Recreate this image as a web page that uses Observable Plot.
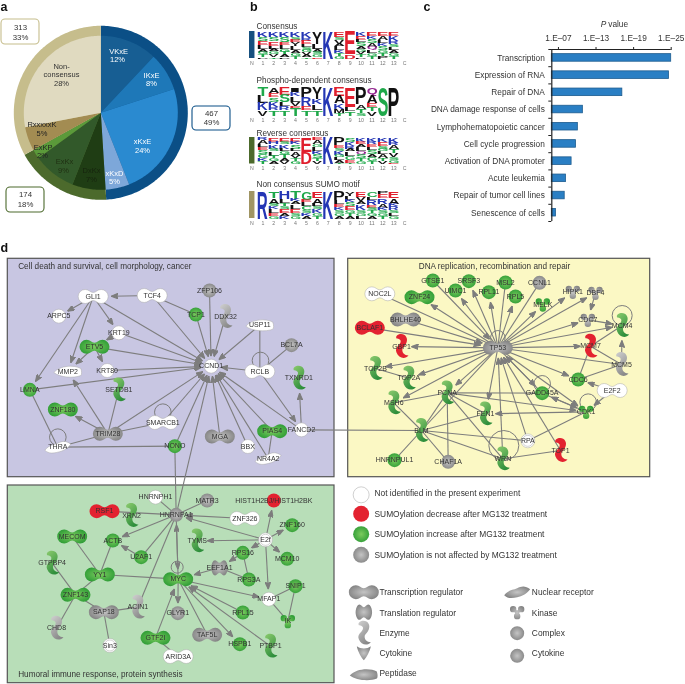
<!DOCTYPE html>
<html><head><meta charset="utf-8">
<script src="https://cdn.jsdelivr.net/npm/d3@7"></script>
<script src="https://cdn.jsdelivr.net/npm/@observablehq/plot@0.6"></script>
<style>
html,body{margin:0;padding:0;background:#fff}
#page{position:relative;width:685px;height:684px;overflow:hidden;filter:blur(.3px)}
#page svg{position:absolute;max-width:none}
</style></head><body><div id="page"></div>
<script>
// ---------- a: pie ----------
const ringNames=["467","174","313"];
const ringValues=[49,18,33];
const ringColors=["#0b4f86","#4c6a2c","#c6bd8c"];
const sliceNames=["VKxE","IKxE","xKxE","xKxD","DxKx","ExKx","ExKP","RxxxxxK","Non-consensus"];
const sliceValues=[12,8,24,5,7,9,2,5,28];
const sliceColors=["#175e93","#1e78b8","#2a8ad0","#7da7d9","#1f3d14","#32592a","#5b9a3a","#a38c52","#e0dac0"];
const pieLabels=[
 ["VKxE",118,51,"#fff"],["12%",117,59.5,"#fff"],["IKxE",151,75.5,"#fff"],["8%",151,83.5,"#fff"],
 ["xKxE",142,141.5,"#fff"],["24%",142,150,"#fff"],["xKxD",114,173,"#fff"],["5%",114,181.5,"#fff"],
 ["DxKx",91,170.5,"#16240e"],["7%",91,179,"#16240e"],["ExKx",64,161.5,"#1f2f12"],["9%",63,170,"#1f2f12"],
 ["ExKP",42.5,147,"#222"],["2%",42,155.5,"#222"],["RxxxxxK",41.5,124.5,"#222"],["5%",41.5,133.5,"#222"],
 ["Non-",61,66,"#333"],["consensus",61,74.5,"#333"],["28%",61,83.5,"#333"]];
const pieBoxes=[[1,19,39,44,"#c6bd8c","313",27,"33%",37],[192,106,230,130,"#0b4f86","467",112.5,"49%",122],[6,187,44,212,"#4c6a2c","174",194,"18%",204]];
const pieCentre=[100.3,112.3], rOuter=87, rInner=77;

// ---------- b: sequence logos ----------
const logoConsensus=["K2 S1.5 E1.5 L1.5 A1 G1 T1 P.5","K2 S1.5 E1.5 L1 A1 G1 V1 T.5","K2 S2 E1 L1.5 G1 T1 A1 P.5","K2 S1 E1 Y1.5 L1.5 A1 G1 T1","K2.5 R1 E1.5 L1 S1 G1 V1 A1 T.5","Y4.5 L2 A1 S1 G1 E.5","K10","E2 S1 V1.5 A1 L1.5 K1 T1 G1","E8.5 D1.5","K1.5 E1.5 L1 S1.5 A1 G1 V1 T1 P.5","E1.5 K1 S1.5 A1.5 Q1 L1 G1 T1","E1.5 A1.5 L1 K1 S1.5 G1 T1 P1","E1.5 K2 R1 S1 L1 A1 G1 T1"];
const logoPhospho=["T3 L2.5 K2.5 V2","A2 E1.5 S1.5 K2 R1 T2","E2.5 S2.5 L1.5 R1.5 T2","I1.5 K1.5 L2 V1.5 E1 T2.5","P3.5 R3 E1.5 T2","Y4 K2 L2 T2","K10","E3 A2.5 K2 M1.5 T1","E7 L1.5 T1.5","P6 A1.5 T1.5 S1","Q3 A2.5 E1.5 T1.5 V1.5","S10","P10"];
const logoReverse=["R1 A1.5 L1 E1 S1.5 G1.5 K1 T1","E1.5 H1 K1.5 S1 L1.5 T1 G1 A1","E1.5 S1 K1.5 L1 G1 T1.5 A1 V1","E1.5 K1 S1.5 L1 A1.5 V1 T1 G1","E5.5 D4.5","E1 A1.5 G1 L1.5 K1 S1.5 T1 V1","K10","P3 E1 S1 K1.5 G1 L1 A1 T.5","S1.5 K1.5 R1 A1 L1.5 G1.5 E1 T.5","K1.5 E1 A1 L1.5 Q1 S1.5 T1 G1","K1.5 R1 E1 L1 S1.5 A1 G1.5 T1","K1.5 E1.5 S1 G1 L1 A1.5 T1 V1","K2 R1 A1.5 T1.5 V1.5 S1 G1 E.5"];
const logoNon=["R10","T2.5 A2 S1 K1 L1.5 E1 G1","H2.5 L1.5 T1 S1 E1.5 A1 K1","T2.5 K1 A1 L1.5 E1.5 S1 G1","G3 E1 L1.5 C1.5 S1 K1 A1","E2.5 A2 L1 S1 K1.5 G1 T1","K10","P3 L1.5 E1 K1 S1 G1 A1","Y1.5 L1.5 K1 S1.5 E1.5 G1 T1 A1","E2 V1.5 A1 K2 S1 G1 L1","C2 L1 R2 E1 S1 T1 G1 A1","P1 E1.5 R2 A1.5 K1 S1 G1 T1","E2.5 A2 K1 R1.5 S1 L1 G1"];
const residueColors={K:"#2436b4",R:"#2436b4",H:"#2436b4",E:"#e01f2d",D:"#e01f2d",S:"#1fa84a",T:"#1fa84a",G:"#1fa84a",C:"#1fa84a",Y:"#111",Q:"#93278f",N:"#93278f",A:"#111",V:"#111",L:"#111",I:"#111",P:"#111",F:"#111",M:"#111",W:"#111"};
const logoPanels=[
 {title:"Consensus",cols:logoConsensus,bar:"#17507f",top:31,bottom:58,label:-5},
 {title:"Phospho-dependent consensus",cols:logoPhospho,bar:null,top:87,bottom:115,label:-7},
 {title:"Reverse consensus",cols:logoReverse,bar:"#4c6a2c",top:137,bottom:163.5,label:-4.5},
 {title:"Non consensus SUMO motif",cols:logoNon,bar:"#a09563",top:191,bottom:218,label:-7}];
const logoTicks=["N","1","2","3","4","5","6","7","8","9","10","11","12","13","C"];

// ---------- c: bars ----------
const termNames=["Transcription","Expression of RNA","Repair of DNA","DNA damage response of cells","Lymphohematopoietic cancer","Cell cycle progression","Activation of DNA promoter","Acute leukemia","Repair of tumor cell lines","Senescence of cells"];
const termLogP=[25,24.65,17.2,10.9,10.1,9.8,9.1,8.2,8.0,6.6];
const pTicks=[7,13,19,25];

// ---------- d: network (reading coordinates; enzyme e, peanut p, circle c, kinase k, peptidase x, nuclear n, translation t, complex o) ----------
const purpleOrigin=[0,240], yellowOrigin=[345,250], greenOrigin=[0,480];
const purpleNodes=[["GLI1",278,168,"p","w"],["TCF4",455,165,"p","w"],["ZFP106",627,150,"c","y"],["TCP1",586,222,"c","g"],["DDX32",675,228,"e","y"],["ARPC5",175,227,"c","w"],["KRT19",355,277,"c","w"],["USP11",778,254,"x","w"],["BCL7A",873,314,"c","y"],["ETV5",282,319,"p","g"],["MMP2",202,393,"x","w"],["KRT80",320,390,"c","w"],["CCND1",632,377,"c","w"],["RCLB",778,393,"p","w"],["TXNRD1",895,413,"e","g"],["SETDB1",355,448,"e","g"],["LMNA",88,448,"c","g"],["ZNF180",187,507,"p","g"],["TRIM28",322,580,"p","y"],["SMARCB1",487,546,"p","w"],["THRA",172,620,"n","w"],["NONO",523,617,"c","g"],["MGA",658,588,"p","y"],["BBX",742,618,"c","w"],["PIAS4",815,572,"p","g"],["FANCD2",903,568,"c","w"],["NR4A2",803,654,"n","w"]];
const yellowNodes=[["GTSE1",262,90,"c","g"],["ZNF24",222,140,"p","g"],["UIMC1",330,120,"c","g"],["SRSF3",370,92,"c","g"],["RPL11",430,125,"c","g"],["MSL2",480,96,"c","g"],["RPL5",510,138,"c","g"],["CCNL1",582,97,"c","y"],["MELK",592,162,"k","g"],["HIPK1",682,124,"k","y"],["DBF4",750,127,"k","y"],["NOC2L",103,130,"p","w"],["BHLHE40",180,207,"p","y"],["BCLAF1",73,232,"p","r"],["GBP1",168,288,"e","r"],["CDC7",727,208,"k","y"],["MCM4",830,225,"e","g"],["MCM7",735,287,"e","r"],["TP53",457,292,"p","y"],["MCM5",828,342,"e","y"],["TOP2B",90,354,"e","g"],["TOP2A",190,383,"e","g"],["CDC6",698,387,"c","g"],["E2F2",800,420,"p","w"],["PCNA",305,427,"e","g"],["GADD45A",590,428,"c","g"],["MSH6",145,457,"e","g"],["FEN1",420,490,"e","g"],["CDK1",722,484,"k","g"],["BLM",228,540,"e","g"],["RPA",547,571,"o","w"],["TOP1",645,600,"e","r"],["HNRNPUL1",147,629,"c","g"],["CHAF1A",308,634,"c","y"],["WRN",472,625,"e","g"]];
const greenNodes=[["HNRNPH1",465,50,"c","w"],["MATR3",620,60,"c","y"],["RSF1",312,92,"p","r"],["XRN2",393,105,"e","g"],["HNRNPA1",527,103,"c","y"],["HIST1H2BJ/HIST1H2BK",820,60,"c","r"],["ZNF326",733,114,"p","w"],["ZNF160",875,134,"c","g"],["MECOM",215,168,"p","g"],["ACTB",337,180,"c","g"],["TYMS",590,181,"e","g"],["E2f",795,178,"o","w"],["U2AF1",422,230,"c","g"],["RPS16",727,217,"c","g"],["MCM10",860,235,"c","g"],["GTPBP4",155,248,"e","g"],["EEF1A1",657,262,"t","y"],["YY1",298,282,"p","g"],["MYC",533,296,"p","g"],["RPS3A",745,297,"c","g"],["SNIP1",885,317,"c","g"],["ZNF143",225,343,"p","g"],["SAP18",310,395,"p","y"],["ACIN1",412,380,"e","y"],["MFAP1",805,356,"c","w"],["GLYR1",532,398,"c","y"],["RPL15",727,396,"c","g"],["IK",862,422,"k","g"],["CHD8",168,443,"e","y"],["TAF5L",620,463,"p","y"],["GTF2I",465,472,"p","g"],["HSPB1",718,491,"c","g"],["PTBP1",810,497,"e","g"],["Sin3",328,495,"o","w"],["ARID3A",533,528,"p","w"]];
const purpleLinks=["TCF4>GLI1","TCF4-TCP1","GLI1>ARPC5","GLI1>KRT19","GLI1>MMP2","GLI1>LMNA","GLI1>CCND1","TCF4>CCND1","TCP1>CCND1","ZFP106>CCND1","DDX32>CCND1","USP11>CCND1","KRT19>CCND1","KRT19>ETV5","ETV5>CCND1","ETV5>MMP2","ETV5>KRT80","KRT80>CCND1","LMNA>CCND1","RCLB>CCND1","BCL7A-RCLB","USP11-RCLB","RCLB>FANCD2","FANCD2>TXNRD1","TRIM28>CCND1","TRIM28>MMP2","TRIM28>ZNF180","TRIM28-SETDB1","TRIM28-SMARCB1","TRIM28-THRA","SMARCB1>CCND1","THRA-LMNA","THRA-NONO","NONO>CCND1","NONO-HNRNPA1","HNRNPA1>CCND1","MGA>CCND1","BBX>CCND1","PIAS4>CCND1","FANCD2>CCND1","NR4A2>CCND1","NR4A2-PIAS4","FANCD2-BLM"];
const yellowLinks=["TP53>ZNF24","TP53>UIMC1","TP53>SRSF3","TP53>RPL11","MSL2-TP53","TP53>RPL5","CCNL1-TP53","TP53>MELK","TP53>HIPK1","TP53>DBF4","TP53>CDC7","TP53>MCM4","TP53>MCM7","TP53-MCM5","TP53>CDC6","TP53>GADD45A","GADD45A>TP53","TP53>PCNA","TP53>TOP2A","TP53>TOP2B","TP53>MSH6","TP53>GBP1","TP53>CDK1","TP53-BLM","TP53>FEN1","NOC2L-TP53","BHLHE40>TP53","BCLAF1>TP53","GTSE1>TP53","WRN>TP53","RPA>TP53","TOP1>TP53","DBF4>CDC7","CDC7>MCM4","MCM7-MCM4","MCM5>MCM4","MCM7-MCM5","MCM7-CDC6","MCM5-CDC6","E2F2>CDC6","E2F2>CDK1","CDK1>GADD45A","GADD45A>CDK1","CDK1>FEN1","CDK1-RPA","PCNA>CDK1","PCNA-GADD45A","PCNA-FEN1","PCNA-MSH6","PCNA-CHAF1A","PCNA-BLM","PCNA-WRN","TOP2B-TOP2A","MSH6-BLM","BLM-FEN1","BLM-RPA","BLM-WRN","BLM-HNRNPUL1","BLM-CHAF1A","WRN-TOP1"];
const greenLinks=["HNRNPH1-HNRNPA1","MATR3-HNRNPA1","RSF1-HNRNPA1","ZNF326>HNRNPA1","E2f>HNRNPA1","HNRNPA1>ACTB","U2AF1-HNRNPA1","U2AF1>ACTB","HNRNPA1>MYC","MYC>HNRNPA1","ACIN1-HNRNPA1","E2f>HIST1H2BJ/HIST1H2BK","E2f>ZNF160","E2f>MCM10","E2f>TYMS","E2f>RPS16","E2f>MFAP1","RPS16-RPS3A","RPS16>EEF1A1","EEF1A1>MYC","RPS3A-EEF1A1","YY1-MYC","YY1-MECOM","YY1-ACTB","YY1-ZNF143","ZNF143-GTPBP4","ZNF143-CHD8","ZNF143-SAP18","SAP18-ACIN1","SAP18-Sin3","MYC>GLYR1","MYC>MFAP1","MYC-TAF5L","MYC>HSPB1","RPL15>MYC","PTBP1>MYC","GTF2I>MYC","GTF2I-ARID3A","MFAP1-SNIP1","SNIP1-IK","MFAP1-IK"];
const selfLoops=[[0,780,360,8.3],[0,487,515,8.3],[0,172,590,8.3],[1,457,262,7.3],[1,830,195,10],[1,590,400,8.3],[1,728,455,8.3],[1,475,585,15],[2,530,260,6]];
const panelRects=[["#c8c6e2",7.3,258.3,334,476.7],["#fbf8c4",347.7,258.3,649.7,476.7],["#b8deb8",7.3,485,334,682.7]];
const panelTitlesLeft=[["Cell death and survival, cell morphology, cancer",17.7,265.7],["Humoral immune response, protein synthesis",17.7,674]];
const panelTitlesCentre=[["DNA replication, recombination and repair",494,265.7]];
const statusKeys=[["Not identified in the present experiment","w",43,39],["SUMOylation decrease after MG132 treatment","r",100,101],["SUMOylation increase after MG132 treatment","g",161,162],["SUMOylation is not affected by MG132 treatment","y",223,224]];
const shapeKeys=[["Transcription regulator","p",55,335,102,336],["Translation regulator","t",55,395,102,397],["Enzyme","e",55,458,102,458],["Cytokine","v",55,518,102,517],["Peptidase","x",55,582,102,578],["Nuclear receptor","n",515,335,559,336],["Kinase","k",515,395,559,397],["Complex","o",515,458,559,458],["Cytokine","c",515,526,559,519]];
const panelLetters=[["a",0,6.5],["b",249.5,6.5],["c",423,6.5],["d",0,247.7]];

// ---------- helpers ----------
const FONT='"Liberation Sans",Arial,sans-serif';
const page=document.getElementById("page");
function fromPath(d){const t=d.match(/[MCZ]|-?[\d.]+/g);return{draw(c){let i=0;while(i<t.length){const o=t[i++];if(o==="M"){c.moveTo(+t[i],+t[i+1]);i+=2}else if(o==="C"){c.bezierCurveTo(+t[i],+t[i+1],+t[i+2],+t[i+3],+t[i+4],+t[i+5]);i+=6}else c.closePath()}}}}
const TAU=Math.PI*2;
const circle=r=>({draw(c){c.moveTo(r,0);c.arc(0,0,r,0,TAU);c.closePath()}});
const symbols={
 c:circle(7),
 o:{draw(c){c.moveTo(7,0);c.arc(0,0,7,0,TAU);c.closePath();c.moveTo(5.5,0);c.arc(0,0,5.5,0,TAU);c.closePath()}},
 p:{draw(c){c.moveTo(-8,-7);c.bezierCurveTo(-4,-7,-3,-4,0,-4);c.bezierCurveTo(3,-4,4,-7,8,-7);c.arc(8,0,7,-Math.PI/2,Math.PI/2);c.bezierCurveTo(4,7,3,4,0,4);c.bezierCurveTo(-3,4,-4,7,-8,7);c.arc(-8,0,7,Math.PI/2,3*Math.PI/2);c.closePath()}},
 e:fromPath("M -3 -12 C 3 -14 7 -9 5 -4 C 4 -1 2 0 1 2 C 0 6 3 9 7 9 C 4 13 -3 12 -5 6 C -7 1 -2 -1 -1 -4 C 0 -7 -3 -8 -5 -8 C -6 -10 -5 -11 -3 -12 Z"),
 k:{draw(c){for(const [x,y] of [[-4,-3],[4,-3],[0,4]]){c.moveTo(x+3.2,y);c.arc(x,y,3.2,0,TAU);c.closePath()}c.moveTo(-3,-2);c.lineTo(3,-2);c.lineTo(1.5,3);c.lineTo(-1.5,3);c.closePath()}},
 x:fromPath("M -14 1 C -8 -6 6 -7 13 -3 C 14 0 14 3 13 4 C 6 7 -8 6 -14 1 Z"),
 n:fromPath("M -13 3 C -8 -3 -4 -2 0 -4 C 4 -6 8 -7 13 -3 C 9 2 5 4 0 5 C -4 6 -9 7 -13 3 Z"),
 t:fromPath("M -6 -7 C -3 -9 -2 -5 0 -5 C 2 -5 3 -9 6 -7 C 9 -3 9 3 6 7 C 3 9 2 5 0 5 C -2 5 -3 9 -6 7 C -9 3 -9 -3 -6 -7 Z"),
 v:fromPath("M -7 -7 C -3 -4 3 -4 7 -7 C 6 -2 3 4 0 7 C -3 4 -6 -2 -7 -7 Z")
};
const extents={c:[7,7],o:[7,7],p:[15,7],e:[7,12],k:[7,7],x:[14,6],n:[13,7],t:[9,8]};
const fills={w:"#fff",r:"#e32230",g:"url(#nodeGreen)",y:"url(#nodeGrey)"};
const enzymeFills={w:"#fff",r:"#e32230",g:"url(#enzymeGreen)",y:"url(#enzymeGrey)"};
const toPage=(rows,o)=>rows.map(([name,x,y,shape,state])=>({name,x:o[0]+x/3,y:o[1]+y/3,shape,state}));
const nodes=[...toPage(purpleNodes,purpleOrigin),...toPage(yellowNodes,yellowOrigin),...toPage(greenNodes,greenOrigin)];
const byName=new Map(nodes.map(n=>[n.name,n]));
const edgeRows=[...purpleLinks,...yellowLinks,...greenLinks].map(s=>{
 const m=s.match(/^(.+?)([>-])(.+)$/);const a=byName.get(m[1]),b=byName.get(m[3]);
 const dx=b.x-a.x,dy=b.y-a.y,[rx,ry]=extents[b.shape];
 const arrow=m[2]===">";
 const k=arrow?1-1/Math.hypot(dx/rx,dy/ry)-3/Math.hypot(dx,dy):1;
 return {x1:a.x,y1:a.y,x2:a.x+dx*k,y2:a.y+dy*k,arrow};
});
const arrowHead=(color)=>{
 const m=d3.create("svg:marker").attr("viewBox","0 0 7 5.6").attr("refX",7).attr("refY",2.8).attr("markerWidth",7).attr("markerHeight",5.6).attr("orient","auto").attr("markerUnits","userSpaceOnUse");
 m.append("path").attr("d","M0,0L7,2.8L0,5.6L1.3,2.8Z").attr("fill",color);
 return m.node();
};
const gradients=()=>{
 const d=d3.create("svg:defs");
 for(const [id,a,b] of [["nodeGreen","#7ccb5e","#2a9a34"],["nodeGrey","#c4c4c4","#7f7f7f"]]){
  const g=d.append("radialGradient").attr("id",id).attr("r","0.6");
  g.append("stop").attr("offset","0%").attr("stop-color",a);
  g.append("stop").attr("offset","100%").attr("stop-color",b);
 }
 for(const [id,a,b] of [["enzymeGreen","#8ccb6e","#2f8f3c"],["enzymeGrey","#d0d0d0","#8a8a8a"]]){
  const g=d.append("linearGradient").attr("id",id).attr("x1","0").attr("y1","0").attr("x2","0.5").attr("y2","1");
  g.append("stop").attr("offset","0%").attr("stop-color",a);
  g.append("stop").attr("offset","100%").attr("stop-color",b);
 }
 return d.node();
};

// pie polygons through the x,y scales
const sectors=(names,values,colors,radius,tag)=>{
 const total=d3.sum(values);let start=0,pts=[];
 names.forEach((n,i)=>{
  const a0=start/total*TAU,a1=(start+values[i])/total*TAU;start+=values[i];
  pts.push({k:tag+n,c:colors[i],x:pieCentre[0],y:pieCentre[1]});
  const steps=Math.max(2,Math.ceil((a1-a0)/0.02));
  for(let s=0;s<=steps;s++){const a=a0+(a1-a0)*s/steps;pts.push({k:tag+n,c:colors[i],x:pieCentre[0]+radius*Math.sin(a),y:pieCentre[1]-radius*Math.cos(a)})}
 });
 return pts;
};
const sectorMark=p=>Plot.line(p,{x:"x",y:"y",z:"k",fill:"c",stroke:"none",curve:"linear-closed"});

// ---------- base plot: pie + network + legend ----------
const dots=[];
for(const sh of Object.keys(symbols)) for(const st of Object.keys(fills)){
 const sub=nodes.filter(n=>n.shape===sh&&n.state===st);
 if(sub.length) dots.push(Plot.dot(sub,{x:"x",y:"y",r:1,symbol:symbols[sh],fill:(sh==="e"?enzymeFills:fills)[st],stroke:st==="w"?"#a9a9a9":"none",strokeWidth:.5}));
}
const legendOrigin=[345,480];
const statusRows=statusKeys.map(([t,s,cy,ty])=>({t,s,x:legendOrigin[0]+47/3,y:legendOrigin[1]+cy/3,tx:legendOrigin[0]+87/3,ty:legendOrigin[1]+ty/3}));
const shapeRows=shapeKeys.map(([t,s,x,y,tx,ty])=>({t,s,x:legendOrigin[0]+x/3,y:legendOrigin[1]+y/3,tx:legendOrigin[0]+tx/3,ty:legendOrigin[1]+ty/3}));
const loopOrigins=[purpleOrigin,yellowOrigin,greenOrigin];
const statusDots=statusRows.map(d=>Plot.dot([d],{x:"x",y:"y",r:8,fill:fills[d.s],stroke:d.s==="w"?"#bbb":"none",strokeWidth:.7}));
const base=Plot.plot({
 width:685,height:684,margin:0,
 style:{background:"transparent",fontFamily:FONT},
 x:{domain:[0,685],range:[0,685],axis:null},y:{domain:[0,684],range:[0,684],axis:null},
 r:{type:"identity"},
 marks:[
  gradients,
  sectorMark(sectors(ringNames,ringValues,ringColors,rOuter,"r")),
  sectorMark(sectors(sliceNames,sliceValues,sliceColors,rInner,"s")),
  Plot.text(pieLabels,{x:d=>d[1],y:d=>d[2],text:d=>d[0],fill:d=>d[3],fontSize:7.5}),
  Plot.rect(pieBoxes,{x1:d=>d[0],y1:d=>d[1],x2:d=>d[2],y2:d=>d[3],stroke:d=>d[4],fill:"#fff",strokeWidth:1.1,rx:4}),
  Plot.text(pieBoxes,{x:d=>(d[0]+d[2])/2,y:d=>d[6],text:d=>d[5],fontSize:7.8,fill:"#333"}),
  Plot.text(pieBoxes,{x:d=>(d[0]+d[2])/2,y:d=>d[8],text:d=>d[7],fontSize:7.8,fill:"#333"}),
  Plot.text(panelLetters,{x:d=>d[1],y:d=>d[2],text:d=>d[0],textAnchor:"start",fontSize:12.5,fontWeight:"bold",fill:"#111"}),
  Plot.rect(panelRects,{x1:d=>d[1],y1:d=>d[2],x2:d=>d[3],y2:d=>d[4],fill:d=>d[0],stroke:"#555",strokeWidth:1.2}),
  Plot.text(panelTitlesLeft,{x:d=>d[1],y:d=>d[2],text:d=>d[0],textAnchor:"start",fontSize:8.2,fill:"#333"}),
  Plot.text(panelTitlesCentre,{x:d=>d[1],y:d=>d[2],text:d=>d[0],textAnchor:"middle",fontSize:8.2,fill:"#333"}),
  Plot.link(edgeRows.filter(e=>!e.arrow),{x1:"x1",y1:"y1",x2:"x2",y2:"y2",stroke:"#7d7d7d",strokeWidth:1.1}),
  Plot.link(edgeRows.filter(e=>e.arrow),{x1:"x1",y1:"y1",x2:"x2",y2:"y2",stroke:"#7d7d7d",strokeWidth:1.1,markerEnd:arrowHead}),
  Plot.dot(selfLoops,{x:d=>loopOrigins[d[0]][0]+d[1]/3,y:d=>loopOrigins[d[0]][1]+d[2]/3,r:d=>d[3],stroke:"#7d7d7d",strokeWidth:1,fill:"none"}),
  ...dots,
  Plot.text(nodes,{x:"x",y:"y",text:"name",fontSize:7,fill:"#333"}),
  ...statusDots,
  Plot.text(statusRows,{x:"tx",y:"ty",text:"t",textAnchor:"start",fontSize:8.4,fill:"#333"}),
  ...shapeRows.map(d=>Plot.dot([d],{x:"x",y:"y",r:1,symbol:symbols[d.s],fill:d.s==="e"?enzymeFills.y:fills.y})),
  Plot.text(shapeRows,{x:"tx",y:"ty",text:"t",textAnchor:"start",fontSize:8.4,fill:"#333"})
 ]
});
base.style.left="0";base.style.top="0";page.appendChild(base);

// ---------- sequence logos ----------
const measure=document.createElement("canvas").getContext("2d");
measure.font=`bold 20px ${FONT}`;
function logoRows(cols){
 const rows=[];
 cols.forEach((s,ci)=>{
  const parts=s.split(" ").map(p=>[p[0],+p.slice(1)]);
  const tot=d3.sum(parts,p=>p[1]);let up=10;
  for(const [l,w] of parts){const h=w/tot*10;rows.push({l,col:ci+1,y1:up-h,y2:up,c:residueColors[l]});up-=h}
 });
 return rows;
}
const logoLetterWidth=10.6;
for(const P of logoPanels){
 const rows=logoRows(P.cols);
 const lettersH=P.bottom-P.top;
 const plot=Plot.plot({
  width:185,height:16+lettersH+10,marginTop:16,marginBottom:10,marginLeft:11.4,marginRight:20.8,
  style:{background:"transparent",fontFamily:FONT},
  x:{domain:[0,14],axis:null},y:{domain:[0,10],axis:null},
  marks:[
   P.bar?Plot.rect([P.bar],{x1:[-.22],x2:[.28],y1:[0],y2:[10],fill:d=>d}):null,
   Plot.text([P.title],{x:[.42],y:[10],dy:P.label,text:d=>d,textAnchor:"start",fontSize:8.2,fill:"#333"}),
   Plot.text(logoTicks,{x:(d,i)=>i,y:()=>0,dy:4.5,text:d=>d,fontSize:5.2,fill:"#777"}),
   Plot.text(rows,{x:"col",y:"y1",text:"l",fill:"c",fontWeight:"bold",fontSize:20,textAnchor:"start",
    render(index,scales,values,dims,ctx,next){
     const g=next(index,scales,values,dims,ctx);
     d3.select(g).selectAll("text").each(function(_,j){
      const r=rows[index[j]];
      const m=measure.measureText(r.l);
      const inkW=m.actualBoundingBoxRight+m.actualBoundingBoxLeft;
      const inkH=m.actualBoundingBoxAscent+m.actualBoundingBoxDescent;
      const h=Math.max(.5,scales.y(r.y1)-scales.y(r.y2));
      const sx=logoLetterWidth/inkW,sy=h/inkH;
      const cx=scales.x(r.col),yb=scales.y(r.y1);
      this.removeAttribute("dy");
      this.setAttribute("y",0);this.setAttribute("x",0);
      this.setAttribute("transform",`translate(${cx-logoLetterWidth/2},${yb}) scale(${sx},${sy}) translate(${m.actualBoundingBoxLeft},${-m.actualBoundingBoxDescent})`);
     });
     return g;
    }})
  ]
 });
 plot.style.left="240px";plot.style.top=(P.top-16)+"px";page.appendChild(plot);
}

// ---------- bars ----------
const termRows=termNames.map((t,i)=>({t,i,p:termLogP[i]}));
const axisStart=5.94;
const bars=Plot.plot({
 width:265,height:235,marginLeft:131.3,marginRight:14.3,marginTop:49,marginBottom:14,
 style:{background:"transparent",fontFamily:FONT,fontSize:"8.3px"},
 x:{domain:[axisStart,25],axis:null},y:{domain:[0,10],reverse:true,axis:null},
 marks:[
  Plot.rect(termRows,{x1:()=>axisStart,x2:"p",y1:d=>d.i+.27,y2:d=>d.i+.71,fill:"#2a7fc4",stroke:"#1d5c8f",strokeWidth:.8}),
  Plot.ruleX([axisStart],{y1:0,y2:10,stroke:"#222",strokeWidth:1.2}),
  Plot.ruleY([0],{x1:axisStart,x2:25,stroke:"#222",strokeWidth:1.2}),
  Plot.axisX({anchor:"top",ticks:pTicks,tickSize:3,tickPadding:6,label:null,fontSize:8.3,stroke:"#222",color:"#333",tickFormat:d=>`1.E\u2013${String(d).padStart(2,"0")}`}),
  Plot.axisY({anchor:"left",ticks:d3.range(0,11),tickSize:3,tickPadding:1,label:null,tickFormat:()=>"",stroke:"#222"}),
  Plot.axisY({anchor:"left",ticks:d3.range(10).map(i=>i+.5),tickSize:0,tickPadding:7,label:null,fontSize:8.3,color:"#333",tickFormat:v=>termNames[v-.5]}),
  Plot.text(["P"],{x:[14.65],y:[-1.49],text:d=>d,fontStyle:"italic",fontSize:8.3,fill:"#333",textAnchor:"end"}),
  Plot.text(["value"],{x:[14.95],y:[-1.49],text:d=>d,fontSize:8.3,fill:"#333",textAnchor:"start"})
 ]
});
bars.style.left="420px";bars.style.top="0";page.appendChild(bars);
</script></body></html>
